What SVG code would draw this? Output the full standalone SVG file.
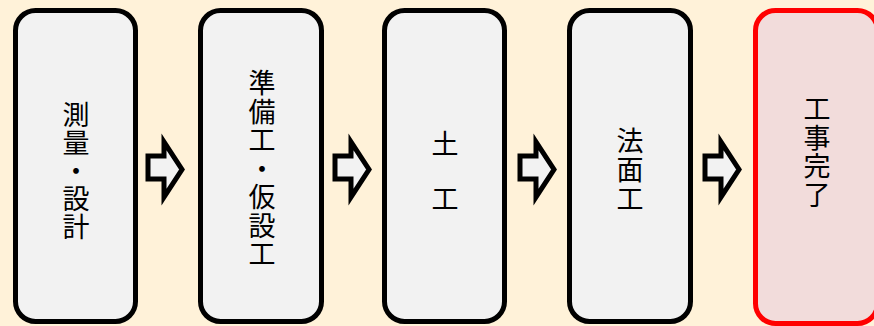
<svg xmlns="http://www.w3.org/2000/svg" width="874" height="326" viewBox="0 0 874 326">
  <style>
    .box{fill:#F2F2F2;stroke:#000;stroke-width:5}
    .done{fill:#F2DCDB;stroke:#FF0000;stroke-width:5}
    .lbl{font-family:"Noto Sans CJK JP","Noto Sans CJK SC",sans-serif;font-size:27px;fill:#000;text-anchor:middle;dominant-baseline:central}
    .arr{fill:#F2F2F2;stroke:#000;stroke-width:5;stroke-linejoin:miter}
  </style>
  <defs>
    <path id="blk" class="arr" d="M0,156 H16 V142 L34,169.5 L16,197 V179 H0 Z"/>
  </defs>
  <rect width="874" height="326" fill="#FFF2D9"/>
  <g id="connectors">
    <use href="#blk" x="148"/>
    <use href="#blk" x="335"/>
    <use href="#blk" x="520"/>
    <use href="#blk" x="705"/>
  </g>
  <g id="n1">
    <rect class="box" x="15.5" y="10.5" width="120" height="311" rx="20"/>
    <text class="lbl"><tspan x="76" y="113">測</tspan><tspan x="76" y="141">量</tspan><tspan x="76" y="169">・</tspan><tspan x="76" y="197">設</tspan><tspan x="76" y="225">計</tspan></text>
  </g>
  <g id="n2">
    <rect class="box" x="200.5" y="10.5" width="121" height="311" rx="20"/>
    <text class="lbl"><tspan x="262" y="81">準</tspan><tspan x="262" y="109.5">備</tspan><tspan x="262" y="138">工</tspan><tspan x="262" y="166.5">・</tspan><tspan x="262" y="195">仮</tspan><tspan x="262" y="223.5">設</tspan><tspan x="262" y="252">工</tspan></text>
  </g>
  <g id="n3">
    <rect class="box" x="384.5" y="10.5" width="120" height="311" rx="20"/>
    <text class="lbl"><tspan x="445" y="142">土</tspan><tspan x="445" y="197">工</tspan></text>
  </g>
  <g id="n4">
    <rect class="box" x="569.5" y="10.5" width="121" height="311" rx="20"/>
    <text class="lbl"><tspan x="630" y="139">法</tspan><tspan x="630" y="168">面</tspan><tspan x="630" y="197">工</tspan></text>
  </g>
  <g id="n5">
    <rect class="done" x="755.5" y="10.5" width="122" height="313" rx="20"/>
    <text class="lbl"><tspan x="817" y="107">工</tspan><tspan x="817" y="135.5">事</tspan><tspan x="817" y="164">完</tspan><tspan x="817" y="192.5">了</tspan></text>
  </g>
</svg>
